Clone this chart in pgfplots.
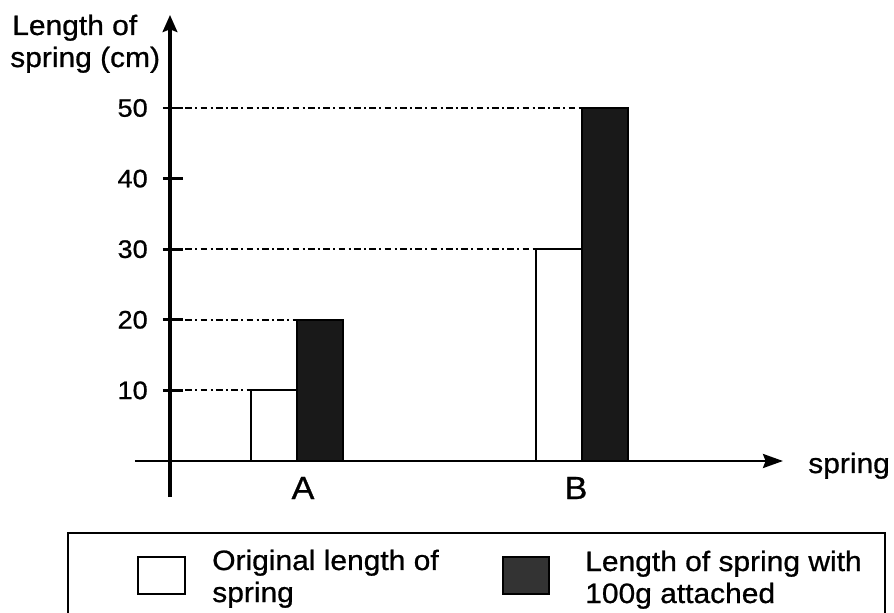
\documentclass[border=0pt]{standalone}
\usepackage{fontspec}
\setmainfont{Liberation Sans}[FakeStretch=1.07,FakeBold=0.8]
\usepackage{pgfplots}
\pgfplotsset{compat=1.18}
\usetikzlibrary{arrows.meta}
\newcommand\lbl{\fontsize{21}{25}\selectfont}
\newcommand\tck{\fontsize{19}{22}\selectfont}
\newcommand\cat{\fontsize{24}{28}\selectfont}
\begin{document}
\begin{tikzpicture}
\useasboundingbox (0,0) rectangle (670.5pt,-459.75pt);
\begin{axis}[at={(101.25pt,-372.75pt)}, anchor=south west, scale only axis,
  width=486pt, height=361.5pt,
  xmin=-0.5684, xmax=1.7053, ymin=-5.099, ymax=63.17,
  axis lines=none, clip=false]
% original length bars
\addplot[ybar, bar width=0.162, bar shift=0pt, draw=black, line width=1.5pt, fill=white]
  coordinates {(-0.081,10) (0.919,30)};
% length with 100g attached
\addplot[ybar, bar width=0.162, bar shift=0pt, draw=black, line width=1.5pt, fill=black!90]
  coordinates {(0.081,20) (1.081,50)};
% guide lines
\addplot[black, line width=1.4pt, dash pattern=on 5pt off 2.5pt on 1.5pt off 2.5pt] coordinates {(-0.4456,10) (-0.1614,10)};
\addplot[black, line width=1.4pt, dash pattern=on 5pt off 2.5pt on 1.5pt off 2.5pt] coordinates {(-0.4456,20) (0,20)};
\addplot[black, line width=1.4pt, dash pattern=on 5pt off 2.5pt on 1.5pt off 2.5pt] coordinates {(-0.4456,30) (0.8351,30)};
\addplot[black, line width=1.4pt, dash pattern=on 5pt off 2.5pt on 1.5pt off 2.5pt] coordinates {(-0.4456,50) (1.0,50)};
% axes
\draw[line width=2.5pt, -{Stealth[length=12.75pt,width=11pt,inset=2pt]}] (axis cs:-0.4456,-5.099) -- (axis cs:-0.4456,63.17);
\draw[line width=2pt, -{Stealth[length=15pt,width=10.5pt,inset=2pt]}] (axis cs:-0.5684,0) -- (axis cs:1.7053,0);
% ticks
\pgfplotsinvokeforeach{10,20,30,40,50}{
  \draw[line width=2pt] (axis cs:-0.4702,#1) -- (axis cs:-0.4,#1);
  \node[anchor=east, inner sep=0pt, font=\tck] at (axis cs:-0.5228,#1) {#1};
}
\end{axis}
% texts
\node[anchor=base west, inner sep=0pt, font=\lbl] at (9pt,-26.25pt) {Length of};
\node[anchor=base west, inner sep=0pt, font=\lbl] at (7.5pt,-50.25pt) {spring (cm)};
\node[anchor=base west, inner sep=0pt, font=\lbl] at (606pt,-354.75pt) {spring};
\node[anchor=base, inner sep=0pt, font=\cat] at (227.25pt,-374.25pt) {A};
\node[anchor=base, inner sep=0pt, font=\cat] at (432pt,-374.25pt) {B};
% legend
\draw[line width=2pt] (51pt,-470pt) -- (51pt,-399.75pt) -- (663.75pt,-399.75pt) -- (663.75pt,-470pt);
\draw[line width=2pt, fill=white] (103.5pt,-417.75pt) rectangle (138.75pt,-445.5pt);
\draw[line width=1.5pt, fill=black!80] (377.25pt,-417.75pt) rectangle (411.75pt,-445.5pt);
\node[anchor=base west, inner sep=0pt, font=\lbl] at (159pt,-427.5pt) {Original length of};
\node[anchor=base west, inner sep=0pt, font=\lbl] at (159pt,-451.5pt) {spring};
\node[anchor=base west, inner sep=0pt, font=\lbl] at (438.75pt,-428.25pt) {Length of spring with};
\node[anchor=base west, inner sep=0pt, font=\lbl] at (438.75pt,-452.25pt) {100g attached};
\end{tikzpicture}
\end{document}
